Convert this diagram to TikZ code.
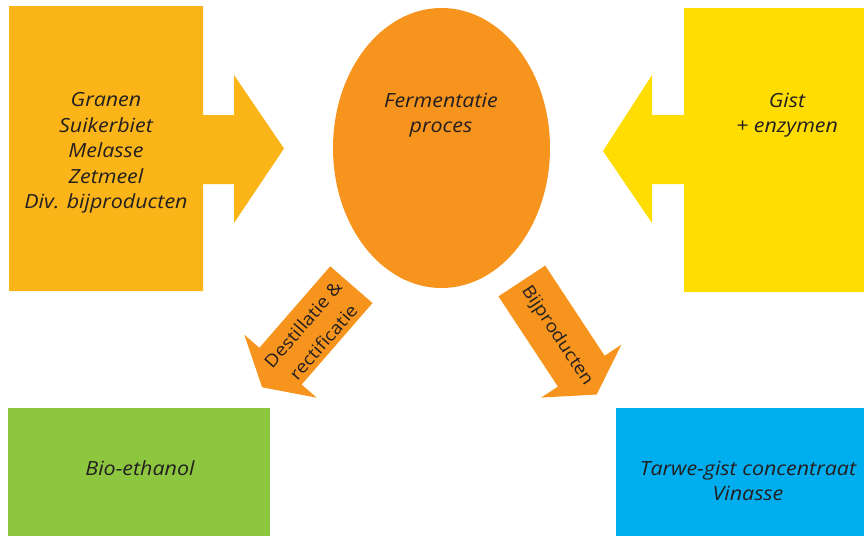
\documentclass[tikz,border=0pt]{standalone}
\usepackage{fontspec}
\setmainfont{Open Sans}[FakeStretch=1.1]
\usetikzlibrary{shapes.geometric}
\definecolor{graan}{HTML}{FBB518}
\definecolor{ferm}{HTML}{F7941D}
\definecolor{gist}{HTML}{FFDD00}
\definecolor{ethanol}{HTML}{8DC63F}
\definecolor{vinasse}{HTML}{00AEEF}
\definecolor{ink}{HTML}{231F20}

\begin{document}
\begin{tikzpicture}[
    x=1pt, y=-1pt,
    txt/.style={
      text=ink, align=center, font=\fontsize{19.5}{25.5}\selectfont\itshape
    },
    arrowtxt/.style={
      text=ink, align=center, font=\fontsize{17.5}{27}\selectfont
    }
    ]
  \useasboundingbox (0,0) rectangle (864,536);
  \fill[graan] (9,6) -- (203,6) -- (203,115) -- (234,115) -- (234,75)
    -- (284,148.5) -- (234,223) -- (234,184) -- (203,184) -- (203,291)
    -- (9,291) -- cycle;
  \fill[gist] (864,8) -- (684,8) -- (684,115) -- (652,115) -- (652,75)
    -- (603,151) -- (652,223) -- (652,184) -- (684,184) -- (684,292)
    -- (864,292) -- cycle;
  \node[ellipse, fill=ferm, inner sep=0, minimum width=217, minimum height=280] (ferm) at (441.5,148) {};
  \fill[ethanol] (8,408) rectangle (270,536);
  \fill[vinasse] (616,408) rectangle (864,536);
  \begin{scope}[shift={(306.75,336)}, rotate=229]
    \fill[ferm] (-68,-28) -- (40,-28) -- (40,-48) -- (68,0) -- (40,48)
      -- (40,28) -- (-68,28) -- cycle;
  \end{scope}
  \begin{scope}[shift={(559.25,337.75)}, rotate=-56.6]
    \fill[ferm] (-68,-28) -- (40,-28) -- (40,-48) -- (68,0) -- (40,48)
      -- (40,28) -- (-68,28) -- cycle;
  \end{scope}
  \node[txt] (graantxt) at (106,153) {Granen\\Suikerbiet\\Melasse\\Zetmeel\\Div. bijproducten};
  \node[txt] (fermtxt) at (441,115) {Fermentatie\\proces};
  \node[txt] (gisttxt) at (787,115) {Gist\\+ enzymen};
  \node[txt] (ethtxt) at (140,468) {Bio-ethanol};
  \node[txt] (vintxt) at (748,481) {Tarwe-gist concentraat\\Vinasse};
  \node[arrowtxt, rotate=49] (dest) at (313,333) {Destillatie \&\\rectificatie};
  \node[arrowtxt, rotate=-56.6] (bij) at (557,336) {Bijproducten};
\end{tikzpicture}
\end{document}
